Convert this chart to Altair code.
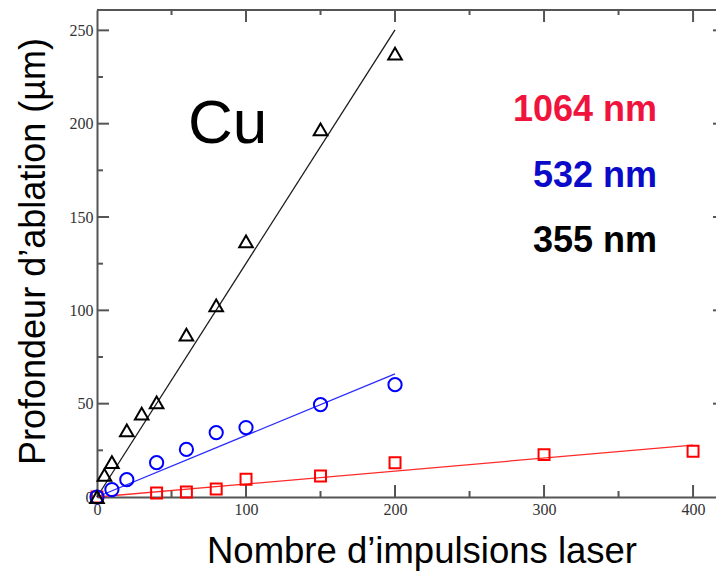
import altair as alt
import pandas as pd

# ---- data ----
series_names = ["1064 nm", "532 nm", "355 nm"]

x_1064 = [0, 40, 60, 80, 100, 150, 200, 300, 400]
y_1064 = [0, 2.1, 2.7, 4.3, 9.5, 11.3, 18.4, 22.7, 24.5]

x_532 = [0, 10, 20, 40, 60, 80, 100, 150, 200]
y_532 = [0, 4.0, 9.3, 18.4, 25.5, 34.5, 37.2, 49.5, 60.2]

x_355 = [0, 5, 10, 20, 30, 40, 60, 80, 100, 150, 200]
y_355 = [0, 11.8, 18.7, 35.7, 44.7, 50.7, 87.0, 102.7, 137.0, 197.0, 237.5]

# fitted straight lines (end points)
fit_x_1064 = [0, 400]
fit_y_1064 = [0, 27.8]
fit_x_532 = [0, 200]
fit_y_532 = [0, 66.0]
fit_x_355 = [0, 200]
fit_y_355 = [0, 250.3]

marker_colors = ["#ff0000", "#0000ff", "#000000"]
line_colors = ["#ff2a2a", "#2a2aff", "#1a1a1a"]
marker_shapes = ["square", "circle", "triangle-up"]
marker_sizes = [120, 175, 185]

# axis ticks / labels
x_label_values = [0, 100, 200, 300, 400]
y_label_values = [0, 50, 100, 150, 200, 250]
x_major = [100, 200, 300, 400]
x_minor = [50, 150, 250, 350]
y_major = [50, 100, 150, 200, 250]
y_minor = [25, 75, 125, 175, 225]

# annotations
legend_texts = ["1064 nm", "532 nm", "355 nm"]
legend_x = [375.8, 375.8, 375.8]
legend_y = [201.3, 166.1, 131.2]
legend_colors = ["#f0143c", "#0a0ac8", "#000000"]
element_text = ["Cu"]
element_x = [61.0]
element_y = [189.5]

# ---- build tables ----
pts_rows = []
for name, xs_, ys_, col, shp, sz in zip(
    series_names, [x_1064, x_532, x_355], [y_1064, y_532, y_355],
    marker_colors, marker_shapes, marker_sizes):
    for a, b in zip(xs_, ys_):
        pts_rows.append({"series": name, "x": a, "y": b, "col": col, "shape": shp, "size": sz})
pts = pd.DataFrame(pts_rows)

fit_rows = []
for name, fx, fy, col in zip(series_names, [fit_x_1064, fit_x_532, fit_x_355],
                             [fit_y_1064, fit_y_532, fit_y_355], line_colors):
    for a, b in zip(fx, fy):
        fit_rows.append({"series": name, "x": a, "y": b, "col": col})
fits = pd.DataFrame(fit_rows)

W, H = 619, 487
xscale = alt.Scale(domain=[0, 415.4], nice=False, zero=False)
yscale = alt.Scale(domain=[0, 260.9], nice=False, zero=False)
AX = "#555555"

x_axis = alt.Axis(
    values=x_label_values, ticks=False, grid=False,
    domainColor=AX, domainWidth=2,
    labelFont="Liberation Serif", labelFontSize=16, labelColor="#333333",
    labelPadding=4, labelFlush=False,
    title="Nombre d’impulsions laser", titleFont="Liberation Sans",
    titleFontSize=36.5, titleFontWeight="normal", titleColor="#000000",
    titleX=324.5, titleY=65, titleBaseline="alphabetic", titleAlign="center",
)
y_axis = alt.Axis(
    values=y_label_values, ticks=False, grid=False,
    domainColor=AX, domainWidth=2,
    labelFont="Liberation Serif", labelFontSize=16, labelColor="#333333",
    labelPadding=4, labelFlush=False,
    title="Profondeur d’ablation (µm)", titleFont="Liberation Sans",
    titleFontSize=36, titleFontWeight="normal", titleColor="#000000",
    titleX=-53, titleY=241, titleAngle=270, titleBaseline="alphabetic",
    titleAlign="center",
)


def X(field):
    return alt.X(field, scale=xscale, axis=x_axis)


def Y(field):
    return alt.Y(field, scale=yscale, axis=y_axis)


lines = alt.Chart(fits).mark_line(strokeWidth=1.3).encode(
    x=X("x:Q"), y=Y("y:Q"),
    color=alt.Color("col:N", scale=None),
    detail="series:N",
)

points = alt.Chart(pts).mark_point(filled=False, strokeWidth=2, opacity=1).encode(
    x=X("x:Q"), y=Y("y:Q"),
    stroke=alt.Stroke("col:N", scale=None),
    shape=alt.Shape("shape:N", scale=None),
    size=alt.Size("size:Q", scale=None),
)


def tick_df(vals):
    return pd.DataFrame({"v": vals})


ty_major = alt.Chart(tick_df(y_major)).mark_rule(color=AX, strokeWidth=2)
ty_minor = alt.Chart(tick_df(y_minor)).mark_rule(color=AX, strokeWidth=2)
tx_major = alt.Chart(tick_df(x_major)).mark_rule(color=AX, strokeWidth=2)
tx_minor = alt.Chart(tick_df(x_minor)).mark_rule(color=AX, strokeWidth=2)

left_major = ty_major.encode(y=Y("v:Q"), x=alt.value(0), x2=alt.value(12))
left_minor = ty_minor.encode(y=Y("v:Q"), x=alt.value(0), x2=alt.value(6))
right_major = ty_major.encode(y=Y("v:Q"), x=alt.value(W - 3), x2=alt.value(W))
bottom_major = tx_major.encode(x=X("v:Q"), y=alt.value(H), y2=alt.value(H - 12))
bottom_minor = tx_minor.encode(x=X("v:Q"), y=alt.value(H), y2=alt.value(H - 6))
top_major = tx_major.encode(x=X("v:Q"), y=alt.value(0), y2=alt.value(12))
top_minor = tx_minor.encode(x=X("v:Q"), y=alt.value(0), y2=alt.value(5))
top_line = alt.Chart(tick_df([0])).mark_rule(color=AX, strokeWidth=2).encode(
    x=alt.value(0), x2=alt.value(W), y=alt.value(0))

leg_df = pd.DataFrame({"t": legend_texts, "x": legend_x, "y": legend_y, "c": legend_colors})
legend_txt = alt.Chart(leg_df).mark_text(
    font="Liberation Sans", fontSize=36, fontWeight="bold", align="right",
    baseline="alphabetic").encode(
    x=X("x:Q"), y=Y("y:Q"),
    text="t:N", color=alt.Color("c:N", scale=None))

el_df = pd.DataFrame({"t": element_text, "x": element_x, "y": element_y})
el_txt = alt.Chart(el_df).mark_text(
    font="Liberation Sans", fontSize=62, align="left", baseline="alphabetic",
    color="#000000").encode(
    x=X("x:Q"), y=Y("y:Q"),
    text="t:N")

chart = alt.layer(
    lines, left_major, left_minor, right_major, bottom_major, bottom_minor,
    top_major, top_minor, top_line, points, legend_txt, el_txt,
).properties(
    width=W, height=H,
    autosize=alt.AutoSizeParams(type="none"),
    padding={"left": 97, "top": 10, "right": 0, "bottom": 77},
    background="#ffffff",
).configure_view(stroke=None)

chart.save("out.html", embed_options={"renderer": "svg", "actions": False})
